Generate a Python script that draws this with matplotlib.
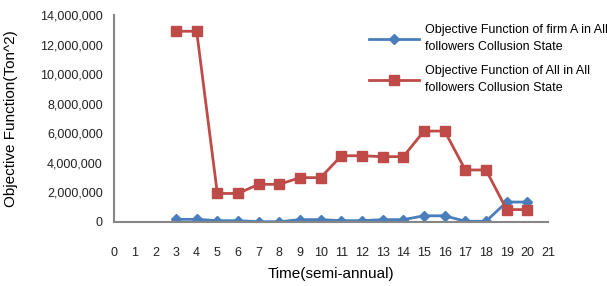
import matplotlib
matplotlib.use("Agg")
import matplotlib.pyplot as plt
from matplotlib.ticker import FuncFormatter

plt.rcParams['font.family'] = ['Liberation Sans', 'DejaVu Sans']

time = list(range(3, 21))
firm_a = [0.18e6, 0.18e6, 0.09e6, 0.09e6, 0.02e6, 0.02e6, 0.16e6, 0.16e6, 0.09e6, 0.09e6,
          0.16e6, 0.16e6, 0.42e6, 0.42e6, 0.05e6, 0.05e6, 1.35e6, 1.35e6]
all_firms = [12.9e6, 12.9e6, 1.93e6, 1.93e6, 2.55e6, 2.55e6, 3.0e6, 3.0e6, 4.48e6, 4.48e6,
             4.42e6, 4.42e6, 6.15e6, 6.15e6, 3.52e6, 3.52e6, 0.84e6, 0.84e6]
label_a = "Objective Function of firm A in All\nfollowers Collusion State"
label_all = "Objective Function of All in All\nfollowers Collusion State"

fig = plt.figure(figsize=(6.07, 2.86), dpi=100)
ax = fig.add_axes([114/607, 1-222/286, (548-114)/607, (222-15)/286])

ax.plot(time, firm_a, color='#4A7EBB', marker='D', markersize=5.5, linewidth=2, label=label_a)
ax.plot(time, all_firms, color='#BE4B48', marker='s', markersize=7, linewidth=2, label=label_all)

ax.set_xlim(0, 21)
ax.set_ylim(0, 14e6)
ax.set_xticks(range(0, 22))
ax.set_yticks(range(0, 14000001, 2000000))
ax.yaxis.set_major_formatter(FuncFormatter(lambda v, p: f"{int(v):,}"))
ax.tick_params(axis='both', length=0, labelsize=9, colors='#222222')
ax.tick_params(axis='x', pad=18)
ax.tick_params(axis='y', pad=8)
for s in ['top', 'right']:
    ax.spines[s].set_visible(False)
for s in ['left', 'bottom']:
    ax.spines[s].set_color('#868686')
    ax.spines[s].set_linewidth(1.5)

ax.set_ylabel("Objective Function(Ton^2)", fontsize=11, labelpad=6)
ax.yaxis.set_label_coords(-0.222, 0.5)
ax.set_xlabel("Time(semi-annual)", fontsize=11, labelpad=6)

leg = ax.legend(loc='upper left', bbox_to_anchor=(0.575, 0.98), frameon=False, fontsize=9,
                handlelength=4.0, handletextpad=0.5, labelspacing=1.0, borderaxespad=0)
for t in leg.get_texts():
    t.set_linespacing(1.5)

fig.savefig("out.png", dpi=100)
